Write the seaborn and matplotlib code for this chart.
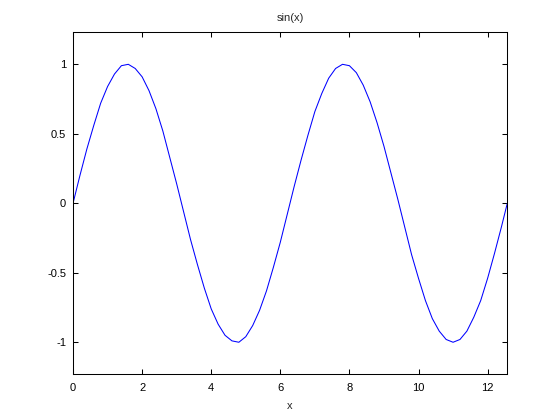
import matplotlib
matplotlib.use("Agg")
import matplotlib.pyplot as plt
import pandas as pd
import seaborn as sns

# values
x_vals = [0.0, 0.2, 0.4, 0.6, 0.8, 1.0, 1.2, 1.4, 1.6, 1.8, 2.0, 2.2, 2.4, 2.6, 2.8,
          3.0, 3.2, 3.4, 3.6, 3.8, 4.0, 4.2, 4.4, 4.6, 4.8, 5.0, 5.2, 5.4, 5.6, 5.8,
          6.0, 6.2, 6.4, 6.6, 6.8, 7.0, 7.2, 7.4, 7.6, 7.8, 8.0, 8.2, 8.4, 8.6, 8.8,
          9.0, 9.2, 9.4, 9.6, 9.8, 10.0, 10.2, 10.4, 10.6, 10.8, 11.0, 11.2, 11.4,
          11.6, 11.8, 12.0, 12.2, 12.4, 12.57]
y_vals = [0.00, 0.20, 0.39, 0.56, 0.72, 0.84, 0.93, 0.99, 1.00, 0.97, 0.91, 0.81,
          0.68, 0.52, 0.33, 0.14, -0.06, -0.26, -0.44, -0.61, -0.76, -0.87, -0.95,
          -0.99, -1.00, -0.96, -0.88, -0.77, -0.63, -0.46, -0.28, -0.08, 0.12, 0.31,
          0.49, 0.66, 0.79, 0.90, 0.97, 1.00, 0.99, 0.94, 0.85, 0.73, 0.58, 0.41,
          0.22, 0.03, -0.17, -0.37, -0.54, -0.70, -0.83, -0.92, -0.98, -1.00, -0.98,
          -0.92, -0.82, -0.70, -0.54, -0.36, -0.17, 0.00]

x_ticks = [0, 2, 4, 6, 8, 10, 12]
y_ticks = [-1, -0.5, 0, 0.5, 1]
y_tick_labels = ["-1", "-0.5", "0", "0.5", "1"]

sns.set_style("ticks")
plt.rcParams["font.family"] = ["Liberation Sans", "DejaVu Sans"]
plt.rcParams["font.size"] = 8

df = pd.DataFrame({"x": x_vals, "y": y_vals})

fig = plt.figure(figsize=(5.6, 4.2), dpi=100)
ax = fig.add_axes([0.1304, 0.109, 0.7755, 0.814])
sns.lineplot(data=df, x="x", y="y", sort=False, estimator=None,
             color="#0000ff", linewidth=0.75, ax=ax)

ax.set_xlim(0, 12.57)
ax.set_ylim(-1.23, 1.23)
ax.set_xticks(x_ticks)
ax.set_xticklabels([str(t) for t in x_ticks])
ax.set_yticks(y_ticks)
ax.set_yticklabels(y_tick_labels)
ax.tick_params(direction="in", top=True, right=True, length=3.6, width=0.75,
               labelsize=8, colors="black")
ax.tick_params(axis="x", pad=6)
ax.tick_params(axis="y", pad=5)
for s in ax.spines.values():
    s.set_linewidth(0.75)
    s.set_color("black")

ax.set_title("sin(x)", fontsize=8, pad=8)
ax.set_xlabel("x", fontsize=8, labelpad=6)
ax.set_ylabel("")

fig.savefig("out.png", dpi=100, facecolor="white")
